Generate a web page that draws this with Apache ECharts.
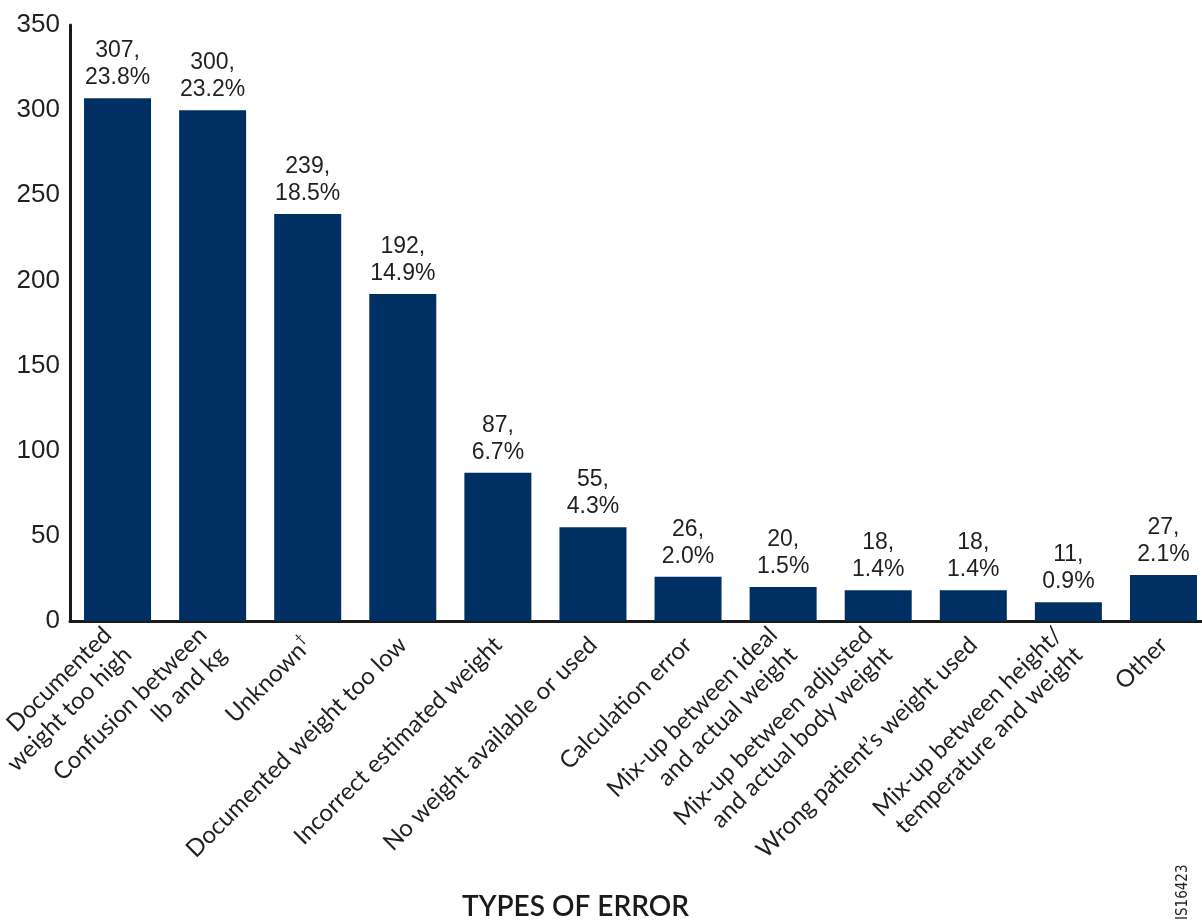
<!DOCTYPE html>
<html>
<head>
<meta charset="utf-8">
<script src="https://cdn.jsdelivr.net/npm/echarts@6/dist/echarts.min.js"></script>
<style>html,body{margin:0;padding:0;background:#fff;}#c{width:1202px;height:921px;}</style>
</head>
<body>
<div id="c"></div>
<script>
const categories = [
  "Documented\nweight too high",
  "Confusion between\nlb and kg",
  "Unknown†",
  "Documented weight too low",
  "Incorrect estimated weight",
  "No weight available or used",
  "Calculation error",
  "Mix-up between ideal\nand actual weight",
  "Mix-up between adjusted\nand actual body weight",
  "Wrong patient’s weight used",
  "Mix-up between height/\ntemperature and weight",
  "Other"
];
const counts = [307, 300, 239, 192, 87, 55, 26, 20, 18, 18, 11, 27];
const percents = ["23.8%", "23.2%", "18.5%", "14.9%", "6.7%", "4.3%", "2.0%", "1.5%", "1.4%", "1.4%", "0.9%", "2.1%"];
const yTicks = { min: 0, max: 350, interval: 50 };
const axisTitle = "TYPES OF ERROR";
const codeText = "IS16423";

const chart = echarts.init(document.getElementById('c'), null, { renderer: 'canvas' });
const catFont = 'Lato, "DejaVu Sans", sans-serif';
const numFont = '"Liberation Sans", Arial, sans-serif';
chart.setOption({
  animation: false,
  backgroundColor: '#ffffff',
  grid: { left: 70, top: 25, width: 1141, height: 596, containLabel: false, outerBoundsMode: 'none' },
  xAxis: {
    type: 'category',
    data: categories,
    axisLine: { show: true, lineStyle: { color: '#1a1a1a', width: 3 } },
    axisTick: { show: false },
    axisLabel: {
      interval: 0,
      rotate: 45,
      margin: 20,
      color: '#231f20',
      fontFamily: catFont,
      fontSize: 24,
      lineHeight: 28,
      hideOverlap: false,
      formatter: v => v.replace('†', '{sup|†}'),
      rich: { sup: { fontSize: 14, verticalAlign: 'top', fontFamily: catFont, color: '#231f20', padding: [0, 0, 10, 0] } }
    }
  },
  yAxis: {
    type: 'value',
    min: yTicks.min, max: yTicks.max, interval: yTicks.interval,
    axisLine: { show: true, lineStyle: { color: '#1a1a1a', width: 3 } },
    axisTick: { show: false },
    splitLine: { show: false },
    axisLabel: { color: '#231f20', fontFamily: numFont, fontSize: 26, margin: 10 }
  },
  series: [{
    type: 'bar',
    data: counts,
    barWidth: 67,
    itemStyle: { color: '#002f63' },
    label: {
      show: true,
      position: 'top',
      distance: 7,
      color: '#231f20',
      fontFamily: numFont,
      fontSize: 23,
      lineHeight: 27,
      formatter: p => counts[p.dataIndex] + ',\n' + percents[p.dataIndex]
    }
  }],
  graphic: [
    { type: 'text', left: 462, top: 893, style: { text: axisTitle, font: '600 28px Lato, "DejaVu Sans", sans-serif', fill: '#1a1a1a' } },
    { type: 'text', x: 1176, y: 920, rotation: Math.PI / 2, style: { text: codeText, font: '15px "DejaVu Sans Condensed", "Liberation Sans Narrow", sans-serif', fill: '#231f20' } }
  ]
});
</script>
</body>
</html>
